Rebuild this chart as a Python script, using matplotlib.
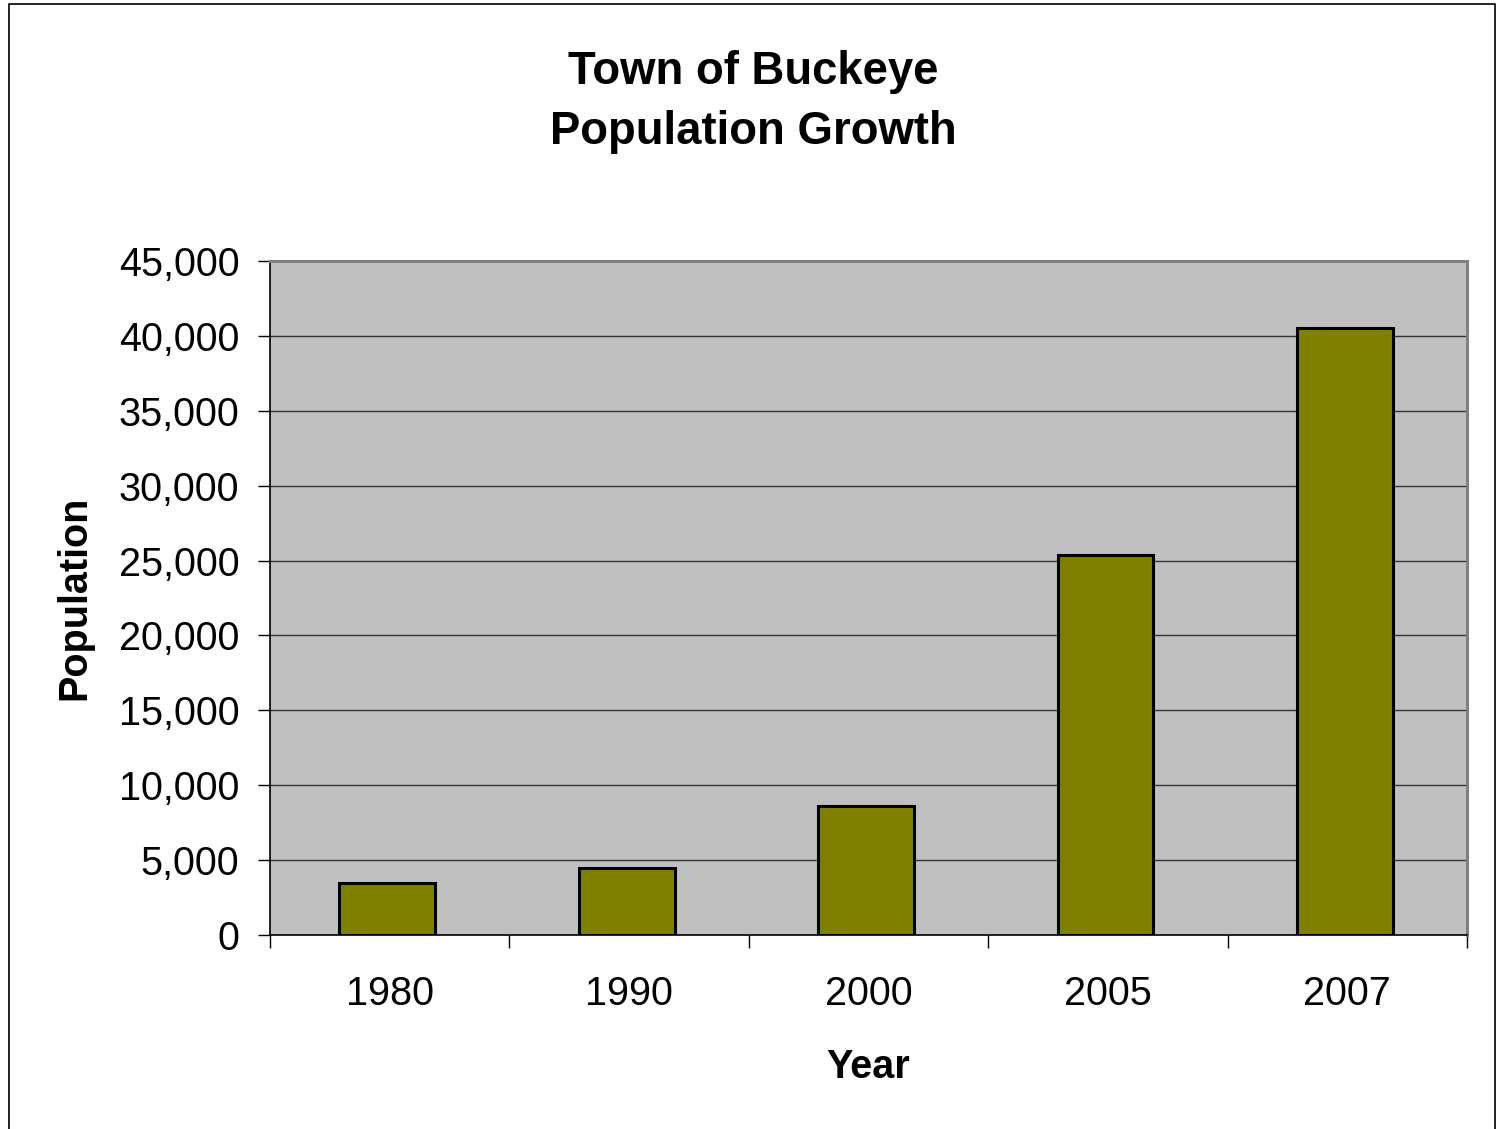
import matplotlib.pyplot as plt
from matplotlib.patches import Rectangle
from matplotlib.ticker import FuncFormatter

# Данные
years = ['1980', '1990', '2000', '2005', '2007']
population = [3500, 4450, 8600, 25400, 40500]
y_ticks = list(range(0, 45001, 5000))

plt.rcParams['font.family'] = ['Liberation Sans', 'DejaVu Sans']

fig = plt.figure(figsize=(14.98, 11.29), dpi=100)
ax = fig.add_axes([270 / 1498, 1 - 935 / 1129, 1197 / 1498, 674 / 1129])

# Серый фон области построения
ax.set_facecolor('#c0c0c0')
x = [i - 0.01 for i in range(len(years))]
ax.bar(x, population, width=0.4, color='#808000', edgecolor='black', linewidth=2.2, zorder=3)

ax.set_xlim(-0.5, len(years) - 0.5)
ax.set_ylim(0, 45000)
ax.set_yticks(y_ticks)
ax.yaxis.set_major_formatter(FuncFormatter(lambda v, p: f'{int(v):,}'))
ax.tick_params(axis='y', labelsize=28.5, length=9, width=1, pad=13, direction='out')

# Деления оси X на границах категорий, подписи по центру
ax.set_xticks([i - 0.5 for i in range(len(years) + 1)])
ax.set_xticklabels([])
ax.set_xticks(list(range(len(years))), minor=True)
ax.set_xticklabels(years, minor=True)
ax.tick_params(axis='x', which='major', length=9, width=1, direction='out')
ax.tick_params(axis='x', which='minor', length=0, labelsize=28.5, pad=29)

# Горизонтальная сетка
for v in y_ticks[1:-1]:
    ax.axhline(v, color='#333333', linewidth=1, zorder=1)

for side in ['top', 'right']:
    ax.spines[side].set_color('#808080')
    ax.spines[side].set_linewidth(2.2)
for side in ['left', 'bottom']:
    ax.spines[side].set_color('black')
    ax.spines[side].set_linewidth(1.2)

ax.set_xlabel('Year', fontsize=28.5, fontweight='bold', labelpad=25)
ax.set_ylabel('Population', fontsize=28.5, fontweight='bold', labelpad=18)

fig.text(753 / 1498, 1 - 102 / 1129, 'Town of Buckeye\nPopulation Growth', ha='center', va='center',
         fontsize=32.8, fontweight='bold', linespacing=1.5)

# Рамка вокруг всей диаграммы
fig.patches.append(Rectangle((9 / 1498, -0.05), 1486 / 1498, 1.05 - 4 / 1129, transform=fig.transFigure,
                             fill=False, edgecolor='black', linewidth=1.2))

fig.savefig('out.png', dpi=100)
